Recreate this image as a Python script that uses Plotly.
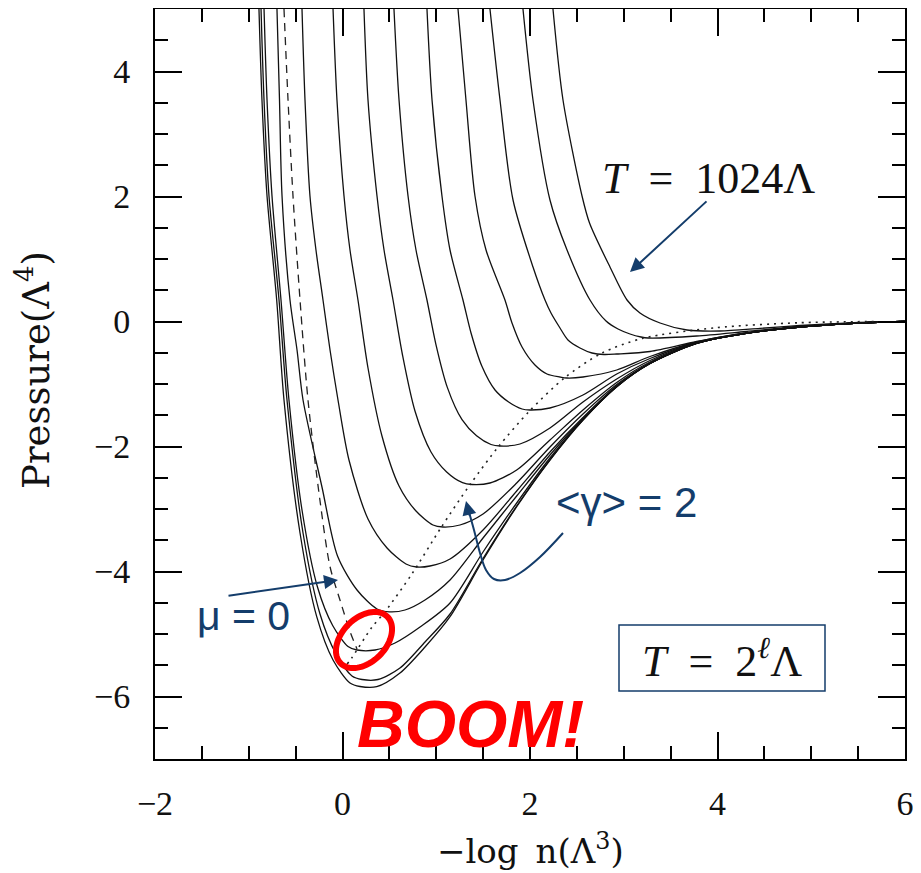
import numpy as np
import plotly.graph_objects as go

# ---- data (x = -log n, y = pressure), one isotherm per l ----
l0_x = [-0.891, -0.859, -0.805, -0.702, -0.624, -0.453, -0.275, -0.101, 0.08, 0.187, 0.365, 0.613, 0.88, 1.147, 1.499, 1.858, 2.213, 2.565, 2.925, 3.28, 3.778, 4.304, 4.88, 5.413, 6.0]
l0_y = [5.0, 3.544, 2.008, 0.344, -1.256, -3.384, -4.723, -5.416, -5.784, -5.84, -5.843, -5.624, -5.208, -4.723, -3.816, -2.963, -2.216, -1.576, -1.043, -0.672, -0.349, -0.189, -0.088, -0.032, 0.0]

l1_x = [-0.869, -0.837, -0.784, -0.677, -0.592, -0.421, -0.24, -0.069, 0.101, 0.208, 0.379, 0.613, 0.88, 1.147, 1.499, 1.858, 2.213, 2.565, 2.925, 3.28, 3.778, 4.304, 4.88, 5.413, 6.0]
l1_y = [5.0, 3.544, 2.008, 0.344, -1.256, -3.384, -4.68, -5.32, -5.672, -5.728, -5.728, -5.544, -5.128, -4.68, -3.792, -2.952, -2.213, -1.576, -1.043, -0.672, -0.349, -0.189, -0.088, -0.032, 0.0]

l2_x = [-0.837, -0.805, -0.752, -0.656, -0.571, -0.432, -0.267, -0.105, 0.059, 0.155, 0.347, 0.56, 0.827, 1.147, 1.499, 1.858, 2.213, 2.565, 2.925, 3.28, 3.778, 4.304, 4.88, 5.413, 6.0]
l2_y = [5.0, 3.544, 2.008, 0.344, -1.256, -3.016, -4.248, -4.864, -5.2, -5.256, -5.256, -5.144, -4.888, -4.504, -3.688, -2.904, -2.184, -1.568, -1.043, -0.672, -0.349, -0.189, -0.088, -0.032, 0.0]

l3_x = [-0.699, -0.672, -0.645, -0.56, -0.485, -0.421, -0.219, -0.053, 0.155, 0.368, 0.5, 0.667, 0.88, 1.147, 1.499, 1.858, 2.213, 2.565, 2.925, 3.28, 3.778, 4.304, 4.88, 5.413, 6.0]
l3_y = [5.0, 3.544, 2.008, 0.344, -0.456, -1.256, -2.648, -3.752, -4.296, -4.6, -4.645, -4.616, -4.456, -4.136, -3.464, -2.792, -2.136, -1.552, -1.036, -0.671, -0.348, -0.189, -0.088, -0.032, 0.0]

l4_x = [-0.432, -0.4, -0.347, -0.283, -0.208, -0.133, -0.048, 0.069, 0.272, 0.475, 0.677, 0.79, 0.933, 1.147, 1.499, 1.858, 2.213, 2.565, 2.925, 3.28, 3.778, 4.304, 4.88, 5.413, 6.0]
l4_y = [5.0, 3.544, 2.008, 1.144, 0.344, -0.456, -1.256, -2.216, -3.16, -3.624, -3.88, -3.928, -3.912, -3.8, -3.336, -2.712, -2.088, -1.536, -1.029, -0.669, -0.347, -0.189, -0.088, -0.032, 0.0]

l5_x = [-0.101, -0.059, 0.016, 0.08, 0.165, 0.272, 0.421, 0.603, 0.784, 0.965, 1.072, 1.253, 1.499, 1.858, 2.213, 2.565, 2.925, 3.28, 3.778, 4.304, 4.88, 5.413, 6.0]
l5_y = [5.0, 3.544, 2.008, 1.144, 0.344, -0.744, -1.832, -2.632, -3.032, -3.256, -3.288, -3.256, -3.08, -2.584, -2.008, -1.48, -1.008, -0.664, -0.346, -0.189, -0.088, -0.032, 0.0]

l6_x = [0.229, 0.272, 0.368, 0.443, 0.539, 0.64, 0.773, 0.944, 1.111, 1.28, 1.381, 1.573, 1.858, 2.213, 2.565, 2.925, 3.28, 3.778, 4.304, 4.88, 5.413, 6.0]
l6_y = [5.0, 3.544, 2.008, 1.144, 0.344, -0.536, -1.432, -2.088, -2.408, -2.579, -2.608, -2.584, -2.376, -1.896, -1.416, -0.976, -0.648, -0.344, -0.189, -0.088, -0.032, 0.0]

l7_x = [0.549, 0.603, 0.699, 0.784, 0.901, 0.995, 1.119, 1.275, 1.43, 1.584, 1.68, 1.893, 2.213, 2.565, 2.925, 3.28, 3.778, 4.304, 4.88, 5.413, 6.0]
l7_y = [5.0, 3.544, 2.008, 1.144, 0.344, -0.357, -1.058, -1.571, -1.829, -1.968, -1.992, -1.96, -1.704, -1.288, -0.92, -0.624, -0.341, -0.189, -0.088, -0.032, 0.0]

l8_x = [0.901, 0.955, 1.061, 1.147, 1.285, 1.371, 1.486, 1.627, 1.772, 1.915, 2.0, 2.213, 2.565, 2.925, 3.28, 3.778, 4.304, 4.88, 5.413, 6.0]
l8_y = [5.0, 3.544, 2.008, 1.144, 0.344, -0.184, -0.712, -1.096, -1.288, -1.4, -1.416, -1.384, -1.176, -0.84, -0.592, -0.336, -0.187, -0.088, -0.032, 0.0]

l9_x = [1.232, 1.317, 1.413, 1.531, 1.733, 1.808, 1.915, 2.053, 2.181, 2.32, 2.395, 2.565, 2.925, 3.28, 3.778, 4.304, 4.88, 5.413, 6.0]
l9_y = [5.0, 3.544, 2.008, 1.144, 0.344, -0.024, -0.408, -0.696, -0.84, -0.888, -0.904, -0.888, -0.776, -0.56, -0.328, -0.184, -0.088, -0.032, 0.0]

l10_x = [1.573, 1.68, 1.819, 2.032, 2.16, 2.224, 2.32, 2.405, 2.533, 2.661, 2.789, 2.925, 3.28, 3.778, 4.304, 4.88, 5.413, 6.0]
l10_y = [5.0, 3.544, 1.944, 0.872, 0.344, 0.136, -0.104, -0.296, -0.424, -0.504, -0.528, -0.52, -0.48, -0.32, -0.181, -0.088, -0.032, 0.0]

l11_x = [1.925, 2.032, 2.213, 2.395, 2.64, 2.811, 2.939, 3.067, 3.184, 3.259, 3.778, 4.304, 4.88, 5.413, 6.0]
l11_y = [5.0, 3.544, 1.944, 1.144, 0.344, 0.008, -0.12, -0.2, -0.248, -0.264, -0.232, -0.16, -0.08, -0.029, 0.0]

l12_x = [2.245, 2.352, 2.555, 2.635, 2.853, 3.035, 3.173, 3.387, 3.675, 4.027, 4.453, 4.88, 5.413, 6.0]
l12_y = [5.0, 3.544, 2.008, 1.576, 0.872, 0.344, 0.136, -0.024, -0.136, -0.152, -0.11, -0.064, -0.021, 0.0]

mu0_x = [-0.624, -0.581, -0.528, -0.453, -0.368, -0.241, -0.133, -0.027, 0.08, 0.155]
mu0_y = [5.0, 3.544, 2.008, 0.344, -1.256, -2.856, -3.923, -4.456, -4.96, -5.24]

gamma2_x = [0.05, 0.10, 0.31, 0.46, 0.74, 1.05, 1.36, 1.67, 1.99, 2.37, 2.76, 3.20, 3.98, 4.87, 5.72]
gamma2_y = [-5.48, -5.38, -4.90, -4.63, -4.04, -3.30, -2.61, -1.99, -1.44, -0.90, -0.51, -0.27, -0.10, -0.02, 0.0]

x_ticks = [-2, 0, 2, 4, 6]
y_ticks = [-6, -4, -2, 0, 2, 4]

isotherms = [(l0_x, l0_y), (l1_x, l1_y), (l2_x, l2_y), (l3_x, l3_y), (l4_x, l4_y),
             (l5_x, l5_y), (l6_x, l6_y), (l7_x, l7_y), (l8_x, l8_y), (l9_x, l9_y),
             (l10_x, l10_y), (l11_x, l11_y), (l12_x, l12_y)]

NAVY = "#143d6b"
SERIF = "Liberation Serif, DejaVu Serif, serif"
WSERIF = "DejaVu Serif, Liberation Serif, serif"
SANS = "Liberation Sans, Arial, sans-serif"

# the page body has an 8px margin: the figure sits at (8, 8) in the window
OFF = 8
W, H = 921 - OFF, 873 - OFF
L, R, T, B = 155, 905, 9, 759          # plot area in window pixels
def X(px):
    return -2 + (px - L) * 8 / (R - L)
def Y(py):
    return -7 + (B - py) * 12 / (B - T)

fig = go.Figure()
for xs, ys in isotherms:
    fig.add_trace(go.Scatter(x=xs, y=ys, mode="lines",
                             line=dict(color="#111111", width=1.3, shape="spline", smoothing=0.8),
                             hoverinfo="skip", showlegend=False))
fig.add_trace(go.Scatter(x=mu0_x, y=mu0_y, mode="lines",
                         line=dict(color="#222222", width=1.3, dash="8px,6px", shape="spline", smoothing=0.8),
                         hoverinfo="skip", showlegend=False))
fig.add_trace(go.Scatter(x=gamma2_x, y=gamma2_y, mode="lines",
                         line=dict(color="#222222", width=1.6, dash="2px,5px", shape="spline", smoothing=0.8),
                         hoverinfo="skip", showlegend=False))

# curved arrow for <gamma> = 2
cpx = [563, 540, 520, 505, 494, 486, 480, 474, 469]
cpy = [533, 557, 573, 580, 579, 570, 553, 530, 512]
fig.add_trace(go.Scatter(x=[X(p) for p in cpx], y=[Y(p) for p in cpy], mode="lines",
                         line=dict(color=NAVY, width=2, shape="spline", smoothing=1.0),
                         hoverinfo="skip", showlegend=False))

# red ellipse
t = np.linspace(0, 2 * np.pi, 80)
cx, cy, a, b, ang = 364, 640, 33, 22, np.deg2rad(-45)
ex = cx + a * np.cos(t) * np.cos(ang) - b * np.sin(t) * np.sin(ang)
ey = cy + a * np.cos(t) * np.sin(ang) + b * np.sin(t) * np.cos(ang)
path = "M " + " L ".join(f"{X(u):.4f},{Y(v):.4f}" for u, v in zip(ex, ey)) + " Z"
fig.add_shape(type="path", path=path, xref="x", yref="y", line=dict(color="#ff0000", width=6))

# box around T = 2^l Lambda
fig.add_shape(type="rect", xref="x", yref="y", x0=X(619), x1=X(825), y0=Y(625), y1=Y(691),
              line=dict(color=NAVY, width=1.5), fillcolor="rgba(0,0,0,0)")

def txt(px, py, text, family, size, color, **kw):
    d = dict(x=X(px), y=Y(py), xref="x", yref="y", text=text, showarrow=False,
             xanchor="center", yanchor="middle", font=dict(family=family, size=size, color=color))
    d.update(kw)
    return d

def arrow(px, py, ax, ay):
    return dict(x=X(px), y=Y(py), xref="x", yref="y", ax=ax, ay=ay, text="", showarrow=True,
                arrowhead=2, arrowsize=1.4, arrowwidth=2, arrowcolor=NAVY)

ann = [
    txt(708, 178, "<i>T</i>\u2002=\u20021024Λ", SERIF, 44, "#111111"),
    arrow(630, 272, 78, -72),
    txt(722, 658, "<i>T</i>\u2002=\u20022<sup><i>ℓ</i></sup>Λ", SERIF, 44, "#111111"),
    txt(626, 502, "&lt;γ&gt; = 2", SANS, 42, NAVY),
    arrow(466, 501, 4, 16),
    txt(243, 616, "μ = 0", SANS, 41, NAVY),
    arrow(338, 580, -111, 16),
    txt(470, 724, "<b><i>BOOM!</i></b>", SANS, 66, "#ff0000"),
    dict(x=(530 - L) / (R - L), y=(B - 849) / (B - T), xref="paper", yref="paper",
         xanchor="center", yanchor="middle", text="−log\u2002n(Λ<sup>3</sup>)",
         showarrow=False, font=dict(family=WSERIF, size=34, color="#111111")),
    dict(x=(34 - L) / (R - L), y=(B - 370) / (B - T), xref="paper", yref="paper",
         xanchor="center", yanchor="middle", text="Pressure(Λ<sup>4</sup>)",
         textangle=-90, showarrow=False, font=dict(family=WSERIF, size=37, color="#111111")),
]

axis_common = dict(showline=True, linecolor="black", linewidth=2, mirror="allticks",
                   ticks="inside", ticklen=27, tickwidth=2, tickcolor="black",
                   showgrid=False, zeroline=False, automargin=False,
                   tickfont=dict(family=SERIF, size=34, color="#111111"),
                   minor=dict(ticks="inside", ticklen=13, tickwidth=2, tickcolor="black", dtick=0.5, showgrid=False))

fig.update_xaxes(range=[-2, 6], tickvals=x_ticks, ticklabelstandoff=13, **axis_common)
fig.update_yaxes(range=[-7, 5], tickvals=y_ticks, ticklabelstandoff=16, **axis_common)

fig.update_layout(width=W, height=H,
                  margin=dict(l=L - OFF, r=(OFF + W) - R, t=T - OFF, b=(OFF + H) - B, pad=0),
                  plot_bgcolor="white", paper_bgcolor="white", annotations=ann, showlegend=False)

fig.write_html("out.html")
